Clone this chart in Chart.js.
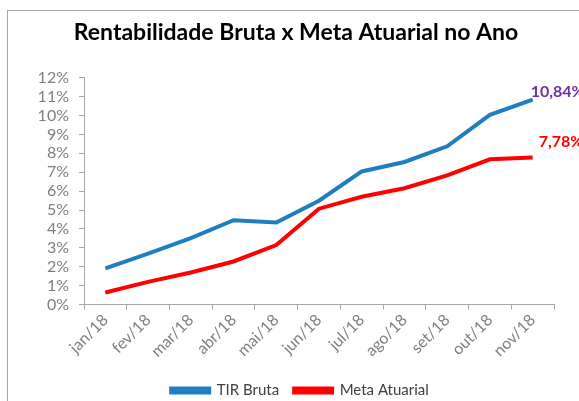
<!DOCTYPE html>
<html>
<head>
<meta charset="utf-8">
<script src="https://cdn.jsdelivr.net/npm/chart.js@4.4.0/dist/chart.umd.min.js"></script>
<style>
    html, body { margin: 0; padding: 0; background: #fff; }
    #frame {
        position: absolute; left: 7px; top: 10px; width: 572px; height: 391px;
        border-top: 1px solid #a6a6a6; border-left: 1px solid #a6a6a6;
    }
    canvas { position: absolute; left: 0; top: 0; }
</style>
</head>
<body>
<div id="frame"><canvas id="grafico" width="572" height="391"></canvas></div>
<script>
// Dados do gráfico
const meses = ['jan/18', 'fev/18', 'mar/18', 'abr/18', 'mai/18', 'jun/18', 'jul/18', 'ago/18', 'set/18', 'out/18', 'nov/18'];
const tirBruta = [1.92, 2.70, 3.52, 4.46, 4.34, 5.49, 7.04, 7.54, 8.37, 10.03, 10.84];
const metaAtuarial = [0.64, 1.20, 1.70, 2.28, 3.15, 5.07, 5.70, 6.15, 6.83, 7.68, 7.78];
const rotulosFinais = ['10,84%', '7,78%'];

const corTexto = '#7f7f7f';
const corEixo = '#a6a6a6';

// Rótulo do último ponto de cada série
const rotuloFinalPlugin = {
    id: 'rotuloFinal',
    afterDatasetsDraw(chart) {
        const ctx = chart.ctx;
        const cores = ['#7030a0', '#ff0000'];
        const desloc = [[-2, -8], [6, -16]];
        ctx.save();
        ctx.font = 'bold 16px Lato';
        ctx.textBaseline = 'middle';
        chart.data.datasets.forEach((ds, i) => {
            const meta = chart.getDatasetMeta(i);
            const pt = meta.data[meta.data.length - 1];
            ctx.fillStyle = cores[i];
            ctx.fillText(rotulosFinais[i], pt.x + desloc[i][0], pt.y + desloc[i][1]);
        });
        ctx.restore();
    }
};

// Centraliza título e legenda na largura total do quadro
const centralizaPlugin = {
    id: 'centraliza',
    afterLayout(chart) {
        chart.titleBlock.left += 15;
        chart.titleBlock.right += 15;
        chart.legend.left += 19;
        chart.legend.right += 19;
        chart.legend.top += 6;
        chart.legend.bottom += 6;
    }
};

new Chart(document.getElementById('grafico'), {
    type: 'line',
    data: {
        labels: meses,
        datasets: [{
            label: 'TIR Bruta',
            data: tirBruta,
            borderColor: '#1f7ec1',
            backgroundColor: '#1f7ec1',
            borderWidth: 4,
            pointRadius: 0,
            tension: 0
        }, {
            label: 'Meta Atuarial',
            data: metaAtuarial,
            borderColor: '#ff0000',
            backgroundColor: '#ff0000',
            borderWidth: 4,
            pointRadius: 0,
            tension: 0
        }]
    },
    options: {
        responsive: false,
        animation: false,
        layout: { padding: { left: 0, right: 26, top: 0, bottom: 0 } },
        plugins: {
            title: {
                display: true,
                text: 'Rentabilidade Bruta x Meta Atuarial no Ano',
                color: '#000',
                font: { family: 'Lato', size: 23, weight: 'bold' },
                padding: { top: 8, bottom: 31 }
            },
            legend: {
                position: 'bottom',
                labels: {
                    color: '#404040',
                    font: { family: 'Lato', size: 15 },
                    boxWidth: 38,
                    boxHeight: 4,
                    padding: 15
                }
            },
            tooltip: { enabled: false }
        },
        scales: {
            x: {
                offset: true,
                grid: { offset: true, drawOnChartArea: false, drawTicks: true, tickLength: 5, color: corEixo },
                border: { color: corEixo },
                ticks: { color: corTexto, font: { family: 'Lato', size: 16 }, maxRotation: 45, minRotation: 45, padding: 1, autoSkip: false }
            },
            y: {
                min: 0,
                max: 12,
                afterFit: (scale) => { scale.width = 76; },
                grid: { drawOnChartArea: false, tickLength: 5, color: corEixo },
                border: { color: corEixo },
                ticks: {
                    stepSize: 1,
                    autoSkip: false,
                    color: corTexto,
                    font: { family: 'Lato', size: 16 },
                    padding: 10,
                    callback: (v) => v + '%'
                }
            }
        }
    },
    plugins: [rotuloFinalPlugin, centralizaPlugin]
});
</script>
</body>
</html>
